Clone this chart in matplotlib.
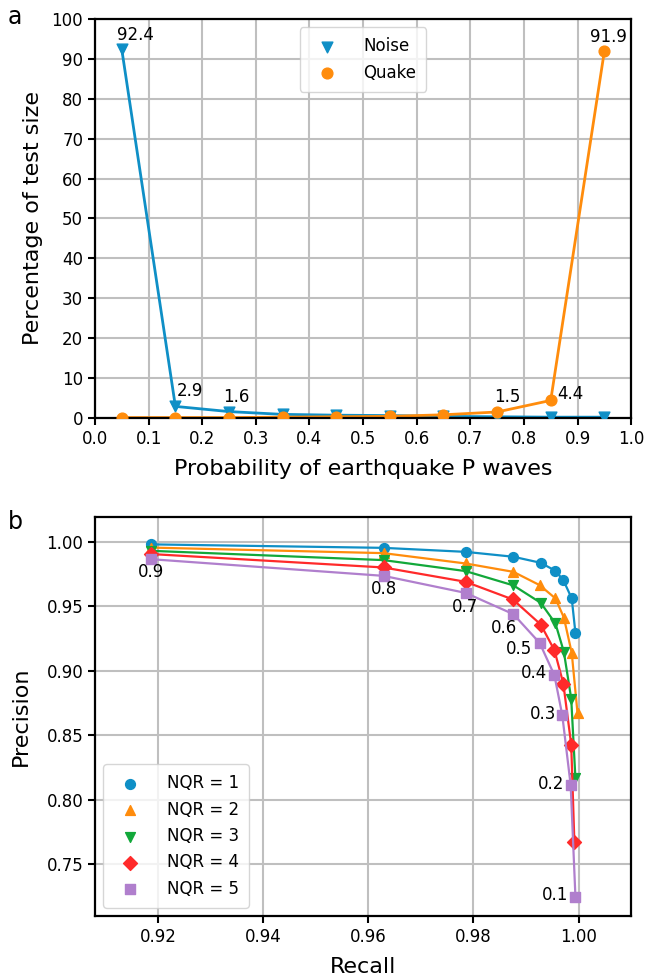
import numpy as np
import matplotlib
matplotlib.use("Agg")
import matplotlib.pyplot as plt

# ---- panel a: probability histogram ----
bin_centers = [0.05, 0.15, 0.25, 0.35, 0.45, 0.55, 0.65, 0.75, 0.85, 0.95]
noise_pct = [92.4, 2.9, 1.6, 0.9, 0.7, 0.6, 0.4, 0.3, 0.2, 0.2]
quake_pct = [0.1, 0.1, 0.1, 0.2, 0.3, 0.4, 0.8, 1.5, 4.4, 91.9]

# ---- panel b: precision / recall per NQR ----
thresholds = [0.9, 0.8, 0.7, 0.6, 0.5, 0.4, 0.3, 0.2, 0.1]
nqr_labels = ["NQR = 1", "NQR = 2", "NQR = 3", "NQR = 4", "NQR = 5"]
recall = [
    [0.9187, 0.9629, 0.9785, 0.9876, 0.9928, 0.9956, 0.9971, 0.9987, 0.9994],
    [0.9187, 0.9629, 0.9785, 0.9876, 0.9926, 0.9956, 0.9972, 0.9987, 0.9998],
    [0.9187, 0.9629, 0.9785, 0.9876, 0.9928, 0.9956, 0.9972, 0.9986, 0.9994],
    [0.9187, 0.9629, 0.9785, 0.9875, 0.9928, 0.9954, 0.9971, 0.9986, 0.9992],
    [0.9187, 0.9629, 0.9785, 0.9876, 0.9926, 0.9954, 0.9969, 0.9985, 0.9994],
]
precision = [
    [0.9980, 0.9953, 0.9922, 0.9884, 0.9837, 0.9775, 0.9703, 0.9561, 0.9294],
    [0.9955, 0.9912, 0.9832, 0.9767, 0.9664, 0.9561, 0.9413, 0.9139, 0.8671],
    [0.9930, 0.9858, 0.9773, 0.9662, 0.9527, 0.9367, 0.9147, 0.8785, 0.8167],
    [0.9905, 0.9801, 0.9690, 0.9553, 0.9359, 0.9160, 0.8901, 0.8428, 0.7673],
    [0.9865, 0.9736, 0.9604, 0.9439, 0.9216, 0.8966, 0.8656, 0.8113, 0.7251],
]

blue = "#0f8fc6"
orange = "#ff8c0c"
colors = [blue, orange, "#12a83a", "#ff2a2a", "#b07fcd"]
markers = ["o", "^", "v", "D", "s"]

plt.rcParams["font.family"] = "DejaVu Sans"
plt.rcParams["font.size"] = 12

fig = plt.figure(figsize=(6.46, 9.8), dpi=100)
ax1 = fig.add_axes([0.147, 0.5735, 0.83, 0.4071])
ax2 = fig.add_axes([0.147, 0.0653, 0.83, 0.4074])

for ax in (ax1, ax2):
    ax.grid(True, color="#bfbfbf", linewidth=1.5)
    ax.set_axisbelow(True)
    for s in ax.spines.values():
        s.set_linewidth(1.6)
    ax.tick_params(width=1.5, length=5, labelsize=12)

# panel a
ax1.plot(bin_centers, noise_pct, color=blue, lw=2, zorder=2)
ax1.scatter(bin_centers, noise_pct, marker="v", s=60, color=blue, label="Noise", zorder=3)
ax1.plot(bin_centers, quake_pct, color=orange, lw=2, zorder=2)
ax1.scatter(bin_centers, quake_pct, marker="o", s=60, color=orange, label="Quake", zorder=3)

# value labels (offsets in points)
a_notes = [(noise_pct, 0, (9.7, 10.4)), (noise_pct, 1, (10.8, 10.8)), (noise_pct, 2, (5.0, 10.3)),
           (quake_pct, 7, (7.2, 10.6)), (quake_pct, 8, (14.0, 4.7)), (quake_pct, 9, (3.2, 10.4))]
for series, i, off in a_notes:
    ax1.annotate(f"{series[i]:.1f}", (bin_centers[i], series[i]), xytext=off,
                 textcoords="offset points", ha="center", va="center", fontsize=12)

ax1.set_xlim(0, 1)
ax1.set_ylim(0, 100)
ax1.set_xticks(np.arange(0, 1.01, 0.1))
ax1.set_yticks(np.arange(0, 101, 10))
ax1.set_xlabel("Probability of earthquake P waves", fontsize=16, labelpad=8)
ax1.set_ylabel("Percentage of test size", fontsize=16, labelpad=6)
ax1.legend(loc="upper center", fontsize=12, handletextpad=1.2, borderpad=0.6)

# panel b
for k in range(5):
    ax2.plot(recall[k], precision[k], color=colors[k], lw=1.6, zorder=2 + k)
    ax2.scatter(recall[k], precision[k], marker=markers[k], s=50, color=colors[k],
                label=nqr_labels[k], zorder=2 + k)

b_offsets = [(0, -9.4), (0, -9.4), (-0.7, -10), (-6.5, -10), (-15, -4.3),
             (-14.4, 1.4), (-13.7, 0.7), (-14.4, 0.7), (-14.4, 1.4)]
for t, r, p, off in zip(thresholds, recall[4], precision[4], b_offsets):
    ax2.annotate(f"{t:.1f}", (r, p), xytext=off, textcoords="offset points",
                 ha="center", va="center", fontsize=12, zorder=10)

ax2.set_xlim(0.908, 1.010)
ax2.set_ylim(0.71, 1.0194)
ax2.set_xticks([0.92, 0.94, 0.96, 0.98, 1.00])
ax2.set_yticks([0.75, 0.80, 0.85, 0.90, 0.95, 1.00])
ax2.xaxis.set_major_formatter(matplotlib.ticker.FormatStrFormatter("%.2f"))
ax2.yaxis.set_major_formatter(matplotlib.ticker.FormatStrFormatter("%.2f"))
ax2.set_xlabel("Recall", fontsize=16, labelpad=8)
ax2.set_ylabel("Precision", fontsize=16, labelpad=11)
ax2.legend(loc="lower left", fontsize=12, handletextpad=1.2, borderpad=0.6)

fig.text(0.012, 0.9827, "a", fontsize=17, va="center")
fig.text(0.012, 0.467, "b", fontsize=17, va="center")

fig.savefig("out.png", dpi=100)
